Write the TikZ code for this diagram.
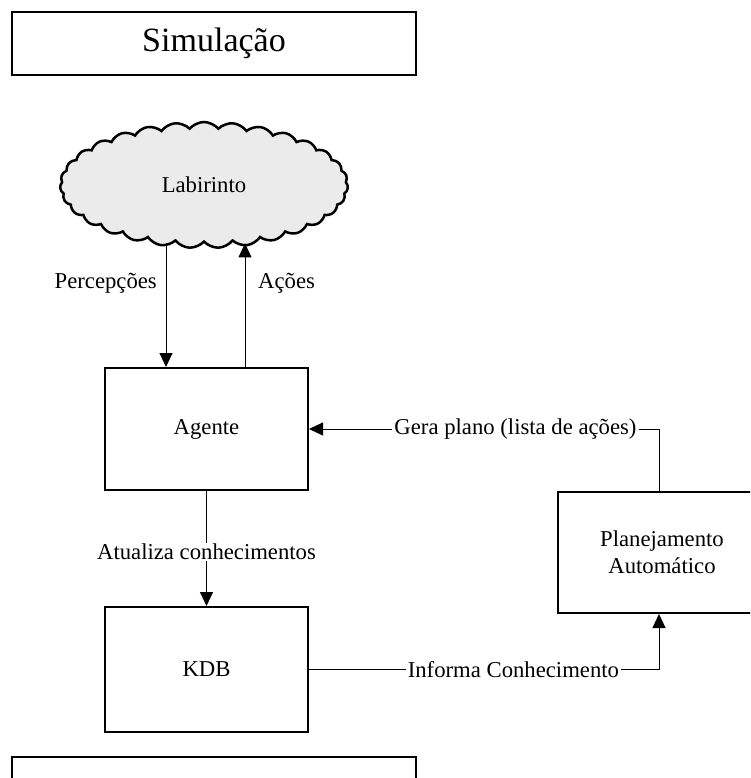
\documentclass[tikz,border=0pt]{standalone}
\usepackage{fontspec}
\setmainfont{Liberation Serif}
\usetikzlibrary{arrows.meta,shapes.symbols,calc}

\begin{document}
\begin{tikzpicture}[x=1pt,y=-1pt,
  box/.style={draw, line width=2pt, rectangle, inner sep=0pt, align=center,
              font=\fontsize{22.7}{26.7}\selectfont},
  titlebox/.style={draw, line width=2pt, rectangle, inner sep=0pt,
              font=\fontsize{34}{40}\selectfont},
  cloudbox/.style={cloud, cloud puffs=31, cloud puff arc=100, cloud ignores aspect,
              draw, line width=2.5pt, fill=black!8, inner sep=0pt,
              font=\fontsize{22.7}{26.7}\selectfont},
  lbl/.style={fill=white, inner xsep=2pt, inner ysep=1pt,
              font=\fontsize{22.7}{26.7}\selectfont},
  conn/.style={line width=1pt, -{Triangle[length=14pt,width=13pt]}},
]
\useasboundingbox (0,0) rectangle (750,778);
\clip (0,0) rectangle (750,778);

% boxes
\node[titlebox, minimum width=404pt, minimum height=63pt] (sim) at (214,43.5) {Simulação};
\node[cloudbox, minimum width=288pt, minimum height=126pt] (lab) at (204,185) {Labirinto};
\node[box, minimum width=203pt, minimum height=122pt] (agente) at (206.5,429) {Agente};
\node[box, minimum width=203pt, minimum height=125pt] (kdb) at (206.5,669.5) {KDB};
\node[box, minimum width=208pt, minimum height=121pt] (plan) at (662,552.5) {Planejamento\\Automático};
\node[titlebox, minimum width=404pt, minimum height=63pt] (bottom) at (214,788.5) {};

% connector columns
\coordinate (px) at (166,0);
\coordinate (ax) at (245,0);
\coordinate (gx) at (659,0);

% connectors
\draw[conn] (px |- lab.south) -- (px |- agente.north);
\draw[conn] (ax |- agente.north) -- (ax |- lab.south);
\node[font=\fontsize{22.7}{26.7}\selectfont, anchor=east, inner sep=0pt] (lperc) at (157,283) {Percepções};
\node[font=\fontsize{22.7}{26.7}\selectfont, anchor=west, inner sep=0pt] (lacoes) at (258,283) {Ações};

\draw[conn] (agente.south) -- (kdb.north)
  node[lbl, pos=0.53] (latual) {Atualiza conhecimentos};

\draw[conn] (gx |- plan.north) |- (agente.east)
  node[lbl, pos=0.705] (lgera) {Gera plano (lista de ações)};

\draw[conn] (kdb.east) -| (gx |- plan.south)
  node[lbl, pos=0.292] (linfo) {Informa Conhecimento};
\end{tikzpicture}
\end{document}
